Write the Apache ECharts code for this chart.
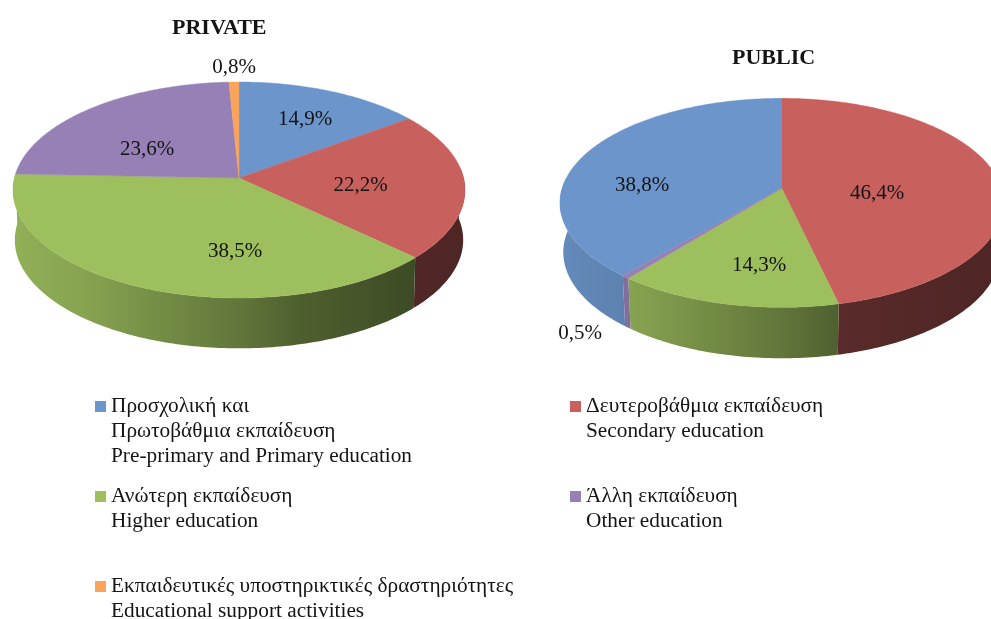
<!DOCTYPE html>
<html><head><meta charset="utf-8">
<script src="https://cdn.jsdelivr.net/npm/echarts@6/dist/echarts.min.js"></script>
<style>html,body{margin:0;background:#fff}#c{width:991px;height:619px}</style></head>
<body><div id="c"></div>
<script>
// ---------- data ----------
const categoriesGreek = ['Προσχολική και','Δευτεροβάθμια εκπαίδευση','Ανώτερη εκπαίδευση','Άλλη εκπαίδευση','Εκπαιδευτικές υποστηρικτικές δραστηριότητες'];
const categoriesExtra = [['Πρωτοβάθμια εκπαίδευση','Pre-primary and Primary education'],['Secondary education'],['Higher education'],['Other education'],['Educational support activities']];
const privateValues = [14.9,22.2,38.5,23.6,0.8];
const publicValues  = [38.8,46.4,14.3,0.5,0];
const privateStartAngle = 0;
const publicStartAngle = 220.32;

// ---------- style and layout ----------
const colors = ['#6C96CB','#C8605E','#9DBF5E','#9680B6','#F9A45B'];
const FONT = '"Liberation Serif","Times New Roman",serif';
const TEXT = '#141414';
const FS = 21.3;
const LABEL_FS = 21;
const shadeStops = [[0,.92],[.15,.86],[.5,.62],[.63,.5],[.9,.39],[1,.36]];
const redShadeStops = [[0,.6],[.6,.45],[1,.39]];
const privateGeom = {cx:239,y0:178,A:224.6,B:106.67,k:.111,s:.992,y0b:228,Bb:107,wallEnd:272};
const publicGeom  = {cx:781.7,y0:188.3,A:219.6,B:102.5,k:.139,s:.985,y0b:237.5,Bb:104,wallEnd:275};
const privateLabelAt = [[305,119.5],[360.5,185.5],[235,251.5],[147,149],[234,67.5]];
const publicLabelAt  = [[642,185.5],[877,193.5],[759,265],[580,333],null];
const legendAt = [[95,396],[570,396],[95,486],[570,486],[95,576]];
const LINE = 24.7;

function topPt(g,deg,r){const t=deg*Math.PI/180,u=r*Math.sin(t),v=r*Math.cos(t),w=1+g.k*v;
  return [g.cx+g.A*u/w,g.y0-g.B*v/w];}
function botPt(g,deg){const t=deg*Math.PI/180,u=Math.sin(t),v=Math.cos(t),w=1+g.k*v;
  return [g.cx+g.s*g.A*u/w,g.y0b-g.Bb*v/w];}
function arc(fn,a,b){const pts=[];const n=Math.max(2,Math.ceil((b-a)));for(let i=0;i<=n;i++)pts.push(fn(a+(b-a)*i/n));return pts;}
function shade(hex,f){const n=parseInt(hex.slice(1),16);
  const c=[n>>16,(n>>8)&255,n&255].map(x=>Math.round(x*f));return 'rgb('+c.join(',')+')';}

function pieSeries(name,values,start,g,labelAt){
  const cum=[];let acc=start;values.forEach(v=>{cum.push(acc);acc+=v*3.6;});
  return {type:'custom',name,coordinateSystem:'none',silent:true,
    data:values.map(v=>[v]),
    renderItem(params,api){
      const i=params.dataIndex,val=api.value(0);
      const a=cum[i],b=a+val*3.6;const kids=[];
      if(val<=0)return {type:'group',children:[]};
      const fill=colors[i];
      // outer wall: only the near side of the rim
      [[a,b],[a-360,b-360],[a+360,b+360]].forEach(([p,q])=>{
        const s=Math.max(p,85),e=Math.min(q,g.wallEnd+1);
        if(e>s+1){
          const pts=arc(d=>topPt(g,d,1),s,e).concat(arc(d=>botPt(g,d),s,e).reverse());
          const stops=i===1?redShadeStops:shadeStops;
          const grad={type:'linear',global:true,x:g.cx-g.A,y:0,x2:g.cx+g.A,y2:0,
            colorStops:stops.map(([o,f])=>({offset:o,color:shade(fill,f)}))};
          kids.push({type:'polygon',z2:1,shape:{points:pts},style:{fill:grad,stroke:null}});
        }
      });
      // top face
      const face=[[g.cx,g.y0]].concat(arc(d=>topPt(g,d,1),a,b));
      kids.push({type:'polygon',z2:5,shape:{points:face},style:{fill,stroke:fill,lineWidth:.4}});
      // value label
      const at=labelAt[i];
      if(at)kids.push({type:'text',z2:20,x:at[0],y:at[1],style:{
        text:val.toFixed(1).replace('.',',')+'%',x:0,y:0,fill:TEXT,font:LABEL_FS+'px '+FONT,align:'center',verticalAlign:'middle'}});
      return {type:'group',children:kids};
    }};
}

const extraText=[];
categoriesExtra.forEach((lines,i)=>lines.forEach((t,j)=>{
  extraText.push({type:'text',left:legendAt[i][0]+16,top:legendAt[i][1]+LINE*(j+1),z:10,
    style:{text:t,fill:TEXT,font:FS+'px '+FONT}});
}));

const chart=echarts.init(document.getElementById('c'),null,{renderer:'canvas'});
chart.setOption({
  animation:false,backgroundColor:'#fff',
  title:[
    {text:'PRIVATE',left:172,top:17,padding:0,textStyle:{fontFamily:FONT,fontSize:22,fontWeight:'bold',color:TEXT}},
    {text:'PUBLIC',left:732,top:47,padding:0,textStyle:{fontFamily:FONT,fontSize:22,fontWeight:'bold',color:TEXT}}
  ],
  legend:categoriesGreek.map((n,i)=>({data:[{name:n,icon:'rect'}],left:legendAt[i][0],top:legendAt[i][1],padding:0,
    itemWidth:11,itemHeight:11,selectedMode:false,textStyle:{fontFamily:FONT,fontSize:FS,color:TEXT}})),
  graphic:extraText,
  series:[
    {type:'pie',radius:[0,0],center:[-50,-50],silent:true,label:{show:false},labelLine:{show:false},
      data:categoriesGreek.map((n,i)=>({name:n,value:privateValues[i],itemStyle:{color:colors[i]}}))},
    pieSeries('PRIVATE',privateValues,privateStartAngle,privateGeom,privateLabelAt),
    pieSeries('PUBLIC',publicValues,publicStartAngle,publicGeom,publicLabelAt)
  ]
});
</script></body></html>
